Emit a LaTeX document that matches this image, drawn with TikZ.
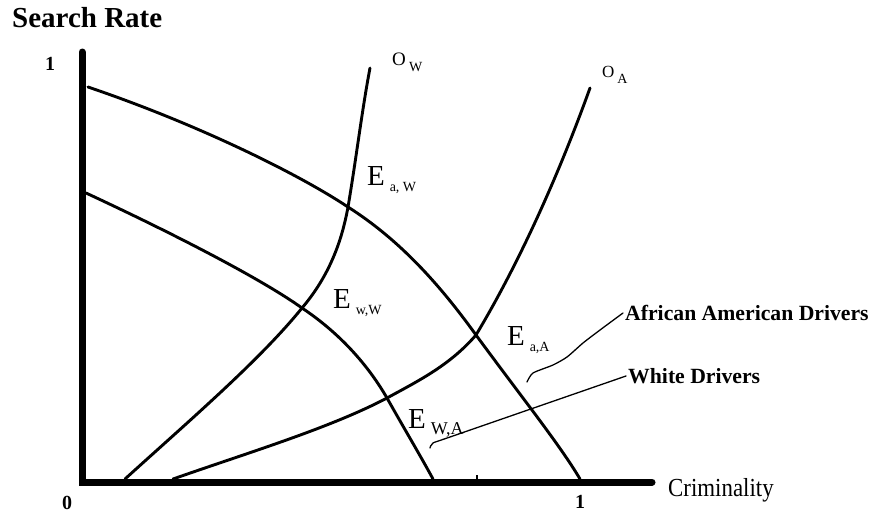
\documentclass[tikz,border=0pt]{standalone}
\usepackage{fontspec}
\setmainfont{Liberation Serif}
\usetikzlibrary{positioning}
\newcommand{\fsz}[1]{\fontsize{#1}{#1}\selectfont}
\newcommand{\lsub}[1]{\,\raisebox{-6pt}{\fsz{14}#1}}
\tikzset{
	curve/.style={line width=2.9pt, line cap=round},
	leader/.style={line width=1.3pt, line cap=round},
	lbl/.style={inner sep=2pt, font=\fsz{29}},
	bigtxt/.style={inner sep=2pt, font=\fsz{21.7}\bfseries}
}

\begin{document}
\begin{tikzpicture}[x=1pt,y=-1pt]
			\useasboundingbox (0,0) rectangle (872,517);
			% axes
			\draw[line width=7pt, line cap=round](82,52) -- (82,482) -- (652,482);
			\draw[line width=1.5pt](477,475) -- (477,482);
			\node[anchor=west, inner sep=0pt, font=\fsz{29}\bfseries] (yname) at (12,18) {Search Rate};
			\node[anchor=west, inner sep=0pt, font=\fsz{26}, xscale=.88] (xname) at (668,490) {Criminality};
			\node[font=\fsz{20}\bfseries] (yone) at (50,64) {1};
			\node[font=\fsz{20}\bfseries] (zero) at (67,503) {0};
			\node[font=\fsz{20}\bfseries] (xone) at (580,502) {1};
			% equilibria
			\coordinate (EaW) at (348,207);
			\coordinate (EwW) at (302,308);
			\coordinate (EaA) at (476,335);
			\coordinate (EwA) at (387,398);
			% drivers' curves
			\draw[curve](88,87) .. controls (200,125) and (300,175) .. (EaW) .. controls (400,240) and (440,285) .. (EaA) .. controls (520,395) and (560,445) .. (580,479);
			\draw[curve](86,193) .. controls (170,232) and (260,278) .. (EwW) .. controls (335,330) and (365,360) .. (EwA) .. controls (405,430) and (420,455) .. (433,479);
			% officers' curves
			\draw[curve](125,479) .. controls (190,420) and (260,360) .. (EwW) .. controls (330,275) and (342,240) .. (EaW) .. controls (356,160) and (362,110) .. (370,68);
			\draw[curve](173,479) .. controls (250,452) and (330,428) .. (EwA) .. controls (420,380) and (450,365) .. (EaA) .. controls (515,270) and (555,185) .. (590,88);
			% labels
			\node[inner sep=0pt, font=\fsz{19}, anchor=base west] (OW) at (392,65) {O\lsub{W}};
			\node[inner sep=0pt, font=\fsz{17}, anchor=base west] (OA) at (602,77) {O\lsub{A}};
			\node[lbl, anchor=base west] (lEaW) at (365,185) {E\lsub{a, W}};
			\node[lbl, anchor=base west] (lEwW) at (331,308) {E\lsub{w,W}};
			\node[lbl, anchor=base west] (lEaA) at (505,345) {E\lsub{a,A}};
			\node[lbl, anchor=base west] (lEwA) at (406,428) {E\lsub{\fsz{18}W,A}};
			\node[bigtxt, anchor=west] (aa) at (623,313) {African American Drivers};
			\node[bigtxt, anchor=west] (wd) at (626,376) {White Drivers};
			\draw[leader] plot[smooth, tension=.4] coordinates {(527,382) (533,373) (553,365) (567,357) (583,343) (600,330) (aa.west)};
			\draw[leader] plot[smooth, tension=.4] coordinates {(430,448) (433,443) (450,437) (wd.west)};
		\end{tikzpicture}
\end{document}
